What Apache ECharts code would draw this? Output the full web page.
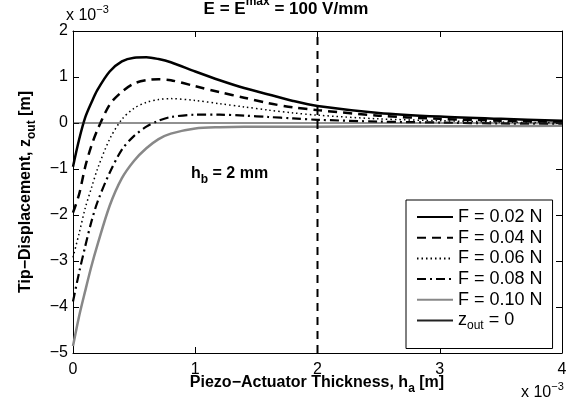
<!DOCTYPE html>
<html>
<head>
<meta charset="UTF-8">
<title>Tip displacement</title>
<script src="https://cdn.jsdelivr.net/npm/echarts@6/dist/echarts.min.js"></script>
<style>
  html, body { margin: 0; padding: 0; background: #fff; }
  #main { width: 579px; height: 408px; }
</style>
</head>
<body>
<div id="main"></div>
<script type="text/javascript">
  // piezo thickness h_a (x 10^-3 m) and tip displacement z_out (x 10^-3 m)
  var hA = [0, 0.05, 0.1, 0.15, 0.2, 0.3, 0.4, 0.5, 0.6, 0.7, 0.8, 1.0, 1.2, 1.4, 1.6, 1.8, 2.0, 2.5, 3.0, 3.5, 4.0];
  var zF002 = [-0.95, -0.36, 0.12, 0.44, 0.72, 1.12, 1.34, 1.42, 1.43, 1.39, 1.32, 1.12, 0.93, 0.76, 0.62, 0.48, 0.37, 0.22, 0.14, 0.09, 0.05];
  var zF004 = [-1.95, -1.55, -0.95, -0.5, -0.15, 0.4, 0.68, 0.86, 0.93, 0.95, 0.93, 0.8, 0.67, 0.55, 0.43, 0.34, 0.28, 0.16, 0.09, 0.05, 0.02];
  var zF006 = [-2.92, -2.4, -1.85, -1.42, -1.0, -0.35, 0.08, 0.32, 0.45, 0.51, 0.53, 0.49, 0.42, 0.35, 0.28, 0.22, 0.17, 0.09, 0.05, 0.02, 0.0];
  var zF008 = [-3.88, -3.25, -2.68, -2.15, -1.72, -1.08, -0.58, -0.28, -0.08, 0.05, 0.13, 0.18, 0.18, 0.16, 0.13, 0.1, 0.07, 0.03, 0.01, -0.01, -0.02];
  var zF010 = [-4.85, -4.2, -3.65, -3.12, -2.65, -1.8, -1.2, -0.82, -0.55, -0.35, -0.23, -0.12, -0.09, -0.08, -0.08, -0.08, -0.08, -0.07, -0.07, -0.065, -0.06];
  var names = ['F = 0.02 N', 'F = 0.04 N', 'F = 0.06 N', 'F = 0.08 N', 'F = 0.10 N'];
  var zeroLine = [[0, 0], [4, 0]];
  var hbLine = [[2, -5], [2, 2]];

  function pairs(ys) {
    return hA.map(function (x, i) { return [x, ys[i]]; });
  }

  var FONT = "'Liberation Sans', Arial, sans-serif";
  var myChart = echarts.init(document.getElementById('main'));

  var tickAxis = function (pos, min, max, labels, margin) {
    return {
      type: 'value', position: pos, min: min, max: max, interval: 1,
      axisLine: { show: true, onZero: false, lineStyle: { color: '#000', width: 1 } },
      axisTick: { show: true, inside: true, length: 6, lineStyle: { color: '#000' } },
      axisLabel: {
        show: labels, color: '#000', fontSize: 16, fontFamily: FONT, margin: margin,
        formatter: function (v) { return String(v).replace('-', '\u2212'); }
      },
      splitLine: { show: false }
    };
  };

  var option = {
    animation: false,
    grid: { left: 73, right: 17, top: 31, bottom: 55 },
    xAxis: [tickAxis('bottom', 0, 4, true, 9), tickAxis('top', 0, 4, false, 6)],
    yAxis: [tickAxis('left', -5, 2, true, 5), tickAxis('right', -5, 2, false, 6)],
    legend: {
      orient: 'vertical',
      left: 406, top: 200,
      data: names.concat(['zout']),
      itemWidth: 36, itemHeight: 14, itemGap: 2.7,
      padding: [8, 10, 17, 10],
      backgroundColor: '#fff',
      borderColor: '#000', borderWidth: 1, borderRadius: 0,
      itemStyle: { opacity: 0 },
      textStyle: {
        color: '#000', fontSize: 18, fontFamily: FONT,
        rich: {
          n: { fontSize: 18, fontFamily: FONT, color: '#000', lineHeight: 22 },
          s: { fontSize: 12, fontFamily: FONT, color: '#000', lineHeight: 12, verticalAlign: 'bottom' }
        }
      },
      formatter: function (name) {
        return name === 'zout' ? '{n|z}{s|out}{n| = 0}' : name;
      }
    },
    series: [
      { name: names[0], type: 'line', data: pairs(zF002), smooth: 0.3, symbol: 'none',
        lineStyle: { color: '#000', width: 2.5, type: 'solid' }, itemStyle: { color: '#000' } },
      { name: names[1], type: 'line', data: pairs(zF004), smooth: 0.3, symbol: 'none',
        lineStyle: { color: '#000', width: 2.5, type: [9, 6] }, itemStyle: { color: '#000' } },
      { name: names[2], type: 'line', data: pairs(zF006), smooth: 0.3, symbol: 'none',
        lineStyle: { color: '#000', width: 1.5, type: [1.5, 3] }, itemStyle: { color: '#000' } },
      { name: names[3], type: 'line', data: pairs(zF008), smooth: 0.3, symbol: 'none',
        lineStyle: { color: '#000', width: 2.2, type: [9, 4, 2, 4] }, itemStyle: { color: '#000' } },
      { name: names[4], type: 'line', data: pairs(zF010), smooth: 0.3, symbol: 'none',
        lineStyle: { color: '#888', width: 2.5, type: 'solid' }, itemStyle: { color: '#888' } },
      { name: 'zout', type: 'line', data: zeroLine, symbol: 'none',
        lineStyle: { color: '#222', width: 1 }, itemStyle: { color: '#222' } },
      { name: 'hb', type: 'line', data: hbLine, symbol: 'none',
        lineStyle: { color: '#000', width: 2, type: [8, 6] }, itemStyle: { color: '#000' } }
    ],
    graphic: [
      { type: 'text', x: 286, y: 22, style: {
          text: '{b|E = E}{p|max}{b| = 100 V/mm}', align: 'center', verticalAlign: 'bottom',
          rich: {
            b: { fontSize: 17, fontWeight: 'bold', fontFamily: FONT, fill: '#000', lineHeight: 26 },
            p: { fontSize: 12, fontWeight: 'bold', fontFamily: FONT, fill: '#000', lineHeight: 12, verticalAlign: 'top' }
          } } },
      { type: 'text', x: 66, y: 28, style: {
          text: '{b|x 10}{p|\u22123}', align: 'left', verticalAlign: 'bottom',
          rich: {
            b: { fontSize: 16, fontFamily: FONT, fill: '#000', lineHeight: 24 },
            p: { fontSize: 11, fontFamily: FONT, fill: '#000', lineHeight: 11, verticalAlign: 'top' }
          } } },
      { type: 'text', x: 521, y: 405, style: {
          text: '{b|x 10}{p|\u22123}', align: 'left', verticalAlign: 'bottom',
          rich: {
            b: { fontSize: 16, fontFamily: FONT, fill: '#000', lineHeight: 24 },
            p: { fontSize: 11, fontFamily: FONT, fill: '#000', lineHeight: 11, verticalAlign: 'top' }
          } } },
      { type: 'text', x: 317, y: 371, style: {
          text: '{b|Piezo\u2212Actuator Thickness, h}{s|a}{b| [m]}', align: 'center', verticalAlign: 'top',
          rich: {
            b: { fontSize: 16, fontWeight: 'bold', fontFamily: FONT, fill: '#000', lineHeight: 24 },
            s: { fontSize: 12, fontWeight: 'bold', fontFamily: FONT, fill: '#000', lineHeight: 12, verticalAlign: 'bottom' }
          } } },
      { type: 'text', x: 14, y: 192, rotation: Math.PI / 2, style: {
          text: '{b|Tip\u2212Displacement, z}{s|out}{b| [m]}', align: 'center', verticalAlign: 'top',
          rich: {
            b: { fontSize: 16, fontWeight: 'bold', fontFamily: FONT, fill: '#000', lineHeight: 24 },
            s: { fontSize: 12, fontWeight: 'bold', fontFamily: FONT, fill: '#000', lineHeight: 12, verticalAlign: 'bottom' }
          } } },
      { type: 'text', x: 191, y: 162, style: {
          text: '{b|h}{s|b}{b| = 2 mm}', align: 'left', verticalAlign: 'top',
          rich: {
            b: { fontSize: 16, fontWeight: 'bold', fontFamily: FONT, fill: '#000', lineHeight: 24 },
            s: { fontSize: 12, fontWeight: 'bold', fontFamily: FONT, fill: '#000', lineHeight: 12, verticalAlign: 'bottom' }
          } } }
    ]
  };

  myChart.setOption(option);
</script>
</body>
</html>
